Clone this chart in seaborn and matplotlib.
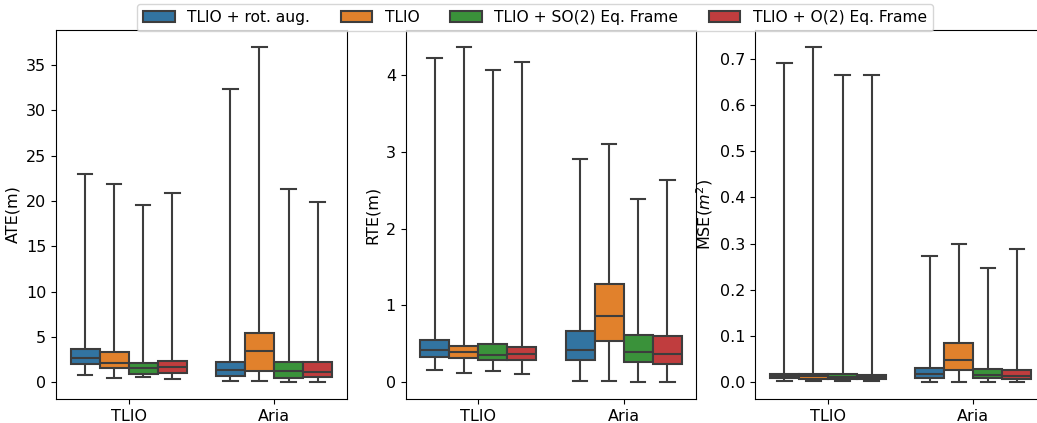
import matplotlib

matplotlib.use("Agg")

import matplotlib.pyplot as plt
import pandas as pd
import seaborn as sns

# Categories
datasets = ["TLIO", "Aria"]
methods = ["TLIO + rot. aug.", "TLIO", "TLIO + SO(2) Eq. Frame", "TLIO + O(2) Eq. Frame"]

# Five-number summaries: [min, q1, median, q3, max]
# order: TLIO dataset (4 methods), then Aria dataset (4 methods)
ate = [
    [0.83, 1.96, 2.7, 3.7, 23.0],
    [0.43, 1.52, 2.1, 3.37, 21.9],
    [0.6, 0.93, 1.6, 2.1, 19.5],
    [0.36, 1.0, 1.7, 2.3, 20.85],
    [0.14, 0.65, 1.3, 2.28, 32.4],
    [0.14, 1.23, 3.48, 5.47, 37.0],
    [0.0, 0.5, 1.23, 2.28, 21.3],
    [0.0, 0.54, 1.1, 2.2, 19.9],
]
rte = [
    [0.165, 0.33, 0.42, 0.55, 4.22],
    [0.125, 0.31, 0.40, 0.47, 4.37],
    [0.14, 0.287, 0.356, 0.50, 4.07],
    [0.104, 0.287, 0.365, 0.456, 4.17],
    [0.017, 0.29, 0.42, 0.665, 2.91],
    [0.017, 0.538, 0.868, 1.285, 3.10],
    [0.0, 0.26, 0.39, 0.613, 2.39],
    [0.0, 0.235, 0.373, 0.60, 2.64],
]
mse = [
    [0.0035, 0.0086, 0.0136, 0.0186, 0.69],
    [0.003, 0.008, 0.0136, 0.018, 0.726],
    [0.0028, 0.008, 0.0115, 0.018, 0.665],
    [0.0028, 0.0064, 0.0107, 0.0157, 0.665],
    [0.0, 0.0093, 0.0172, 0.0315, 0.274],
    [0.0, 0.027, 0.0487, 0.084, 0.30],
    [0.0, 0.0093, 0.0165, 0.0293, 0.248],
    [0.0, 0.0072, 0.0136, 0.0265, 0.289],
]
ylabels = ["ATE(m)", "RTE(m)", "MSE($m^2$)"]


def to_long(summaries):
    rows = []
    k = 0
    for d in datasets:
        for m in methods:
            for v in summaries[k]:
                rows.append({"dataset": d, "method": m, "value": v})
            k += 1
    return pd.DataFrame(rows)


plt.rcParams["font.size"] = 11.5

fig, axes = plt.subplots(1, 3, figsize=(10.37, 4.23), dpi=100)
fig.subplots_adjust(left=0.054, right=1.0087, bottom=0.0567, top=0.929, wspace=0.203)

for ax, summ, lab in zip(axes, [ate, rte, mse], ylabels):
    df = to_long(summ)
    sns.boxplot(
        data=df, x="dataset", y="value", hue="method",
        order=datasets, hue_order=methods,
        whis=(0, 100), showfliers=False, linewidth=1.5, ax=ax,
    )
    ax.set_xlabel("")
    ax.set_ylabel(lab)
    ax.get_legend().remove()

handles, labels = axes[0].get_legend_handles_labels()
fig.legend(handles, labels, loc="upper center", bbox_to_anchor=(0.516, 1.01),
           ncol=4, frameon=True, fontsize=11.2)

fig.savefig("out.png", dpi=100)
plt.close(fig)
